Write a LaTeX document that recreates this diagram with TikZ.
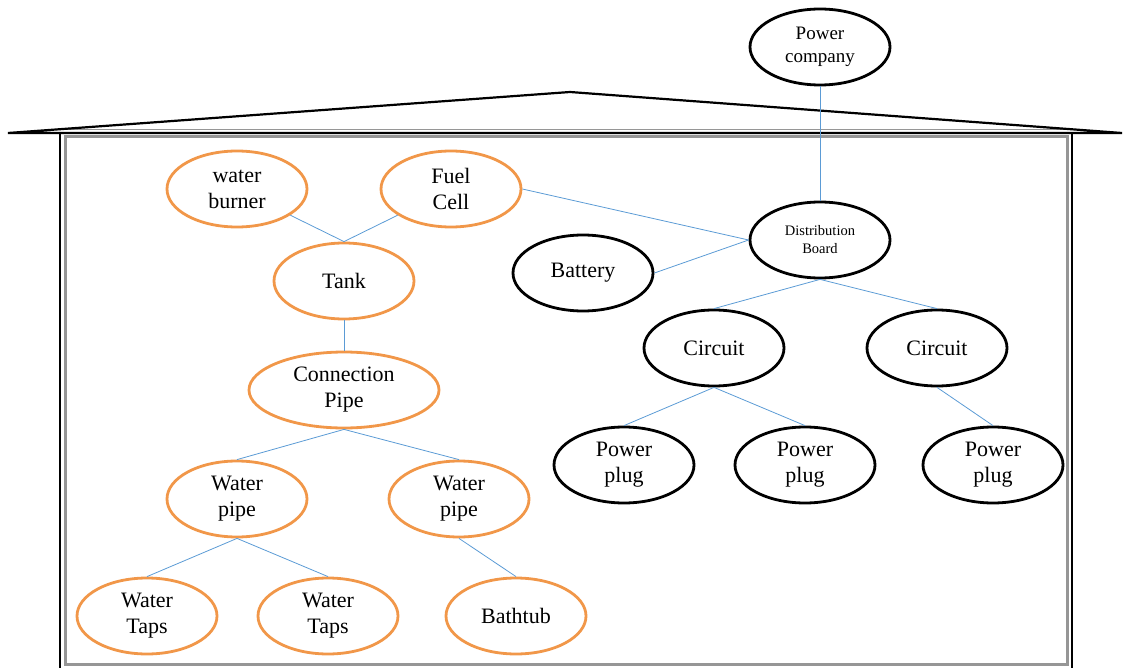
\documentclass[tikz,border=0pt]{standalone}
\usepackage{fontspec}
\setmainfont{Liberation Serif}
\usetikzlibrary{shapes.geometric}
\definecolor{housegray}{RGB}{150,150,150}
\definecolor{pipeorange}{RGB}{241,151,73}
\definecolor{wireblue}{RGB}{91,155,213}
\begin{document}
\begin{tikzpicture}[x=1pt,y=-1pt,
  water node/.style={ellipse,draw=pipeorange,line width=2.8pt,minimum width=140pt,minimum height=76pt,inner sep=0pt,align=center,font=\fontsize{22}{26}\selectfont},
  power node/.style={ellipse,draw=black,line width=2.8pt,minimum width=140pt,minimum height=76pt,inner sep=0pt,align=center,font=\fontsize{22}{26}\selectfont}]
  	\useasboundingbox (0,0) rectangle (1124,668);
  	
  	% house
  	\draw[housegray,line width=3pt] (65,137) rectangle (1067,664);
  	\draw[housegray,line width=1.5pt] (60,129.5) -- (1072,129.5);
  	\draw[black,line width=2pt] (60,680) -- (60,133) -- (1072,133) -- (1072,680);
  	\draw[black,line width=2.2pt,line join=miter] (8,133) -- (570,92) -- (1122,133) -- cycle;
  	
  	% power side
  	\node[power node,font=\fontsize{19}{23}\selectfont] at (820,47) (1) {Power\\company};
  	\node[power node,font=\fontsize{14.5}{18}\selectfont] at (820,240) (2) {Distribution\\Board};
  	\node[power node] at (583,273) (3) {Battery};
  	\node[power node] at (714,348) (4) {Circuit};
  	\node[power node] at (937,348) (5) {Circuit};
  	\node[power node] at (624,465) (6) {Power\\plug};
  	\node[power node] at (805,465) (7) {Power\\plug};
  	\node[power node] at (993,465) (8) {Power\\plug};
  	
  	% water side
  	\node[water node] at (237,189) (9) {water\\burner};
  	\node[water node] at (451,189) (10) {Fuel\\Cell};
  	\node[water node] at (344,281) (11) {Tank};
  	\node[water node,minimum width=190pt] at (344,390) (12) {Connection\\Pipe};
  	\node[water node] at (237,499) (13) {Water\\pipe};
  	\node[water node] at (459,499) (14) {Water\\pipe};
  	\node[water node] at (147,616) (15) {Water\\Taps};
  	\node[water node] at (328,616) (16) {Water\\Taps};
  	\node[water node] at (516,616) (17) {Bathtub};
  	
  	\path[-,draw=wireblue,line width=0.8pt]
  	(1.south) edge (2.north)
  	(10.east) edge (2.west)
  	(3.east) edge (2.west)
  	(2.south) edge (4.north)
  	(2.south) edge (5.north)
  	(4.south) edge (6.north)
  	(4.south) edge (7.north)
  	(5.south) edge (8.north)
  	
  	(9) edge (11.north)
  	(10) edge (11.north)
  	(11.south) edge (12.north)
  	(12.south) edge (13.north)
  	(12.south) edge (14.north)
  	(13.south) edge (15.north)
  	(13.south) edge (16.north)
  	(14.south) edge (17.north);
\end{tikzpicture}
\end{document}
